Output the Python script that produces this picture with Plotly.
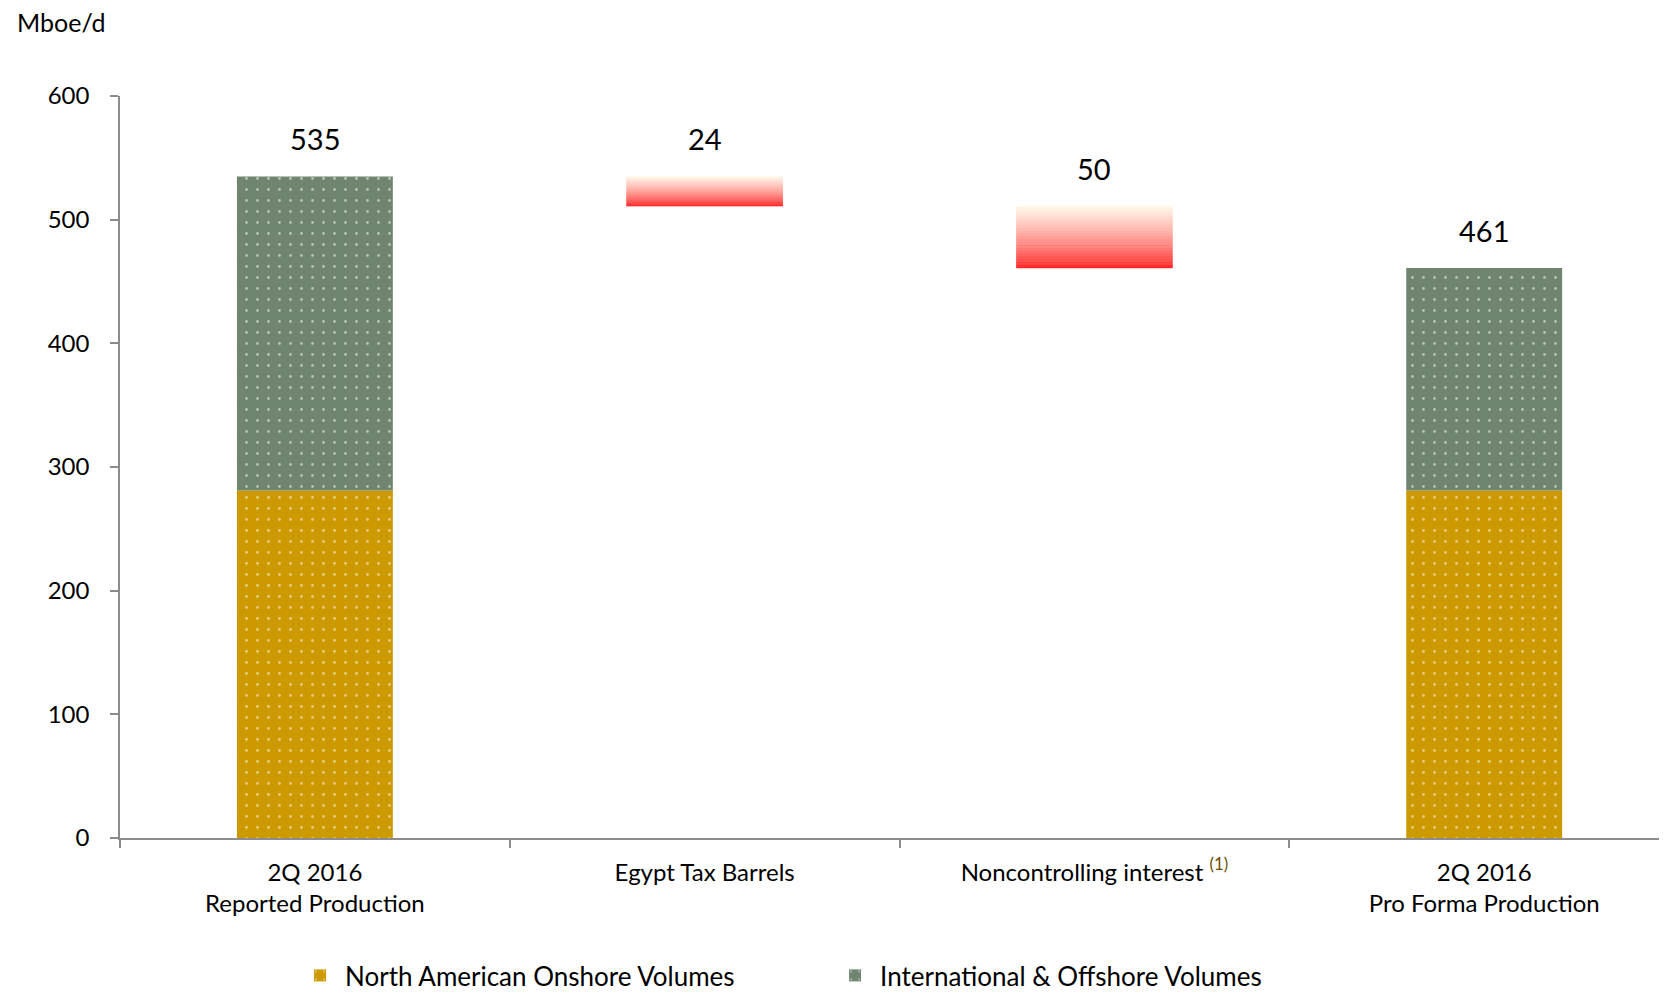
import plotly.graph_objects as go

# ---------------- data ----------------
categories = ["2Q 2016<br>Reported Production",
              "Egypt Tax Barrels",
              "Noncontrolling interest <sup><span style='color:#6b4e00'>(1)</span></sup>",
              "2Q 2016<br>Pro Forma Production"]
north_american = [281, None, None, 281]
international = [254, None, None, 180]
reductions = [None, 24, 50, None]
value_labels = ["535", "24", "50", "461"]
y_ticks = [0, 100, 200, 300, 400, 500, 600]

# ---------------- styles ----------------
FONT = "Lato"
ORANGE = "#CC9900"
GREEN = "#6F8570"
AXIS = "#8C8C8C"
N_SLICES = 40

fig = go.Figure()

pat = dict(shape=".", fgcolor="white", size=11, solidity=0.05, fillmode="overlay")

fig.add_trace(go.Bar(
    x=categories, y=north_american, base=[0, None, None, 0],
    name="North American Onshore Volumes", width=0.4,
    marker=dict(color=ORANGE, line=dict(width=0), pattern=dict(pat, bgcolor=ORANGE)),
    hoverinfo="skip"))
fig.add_trace(go.Bar(
    x=categories, y=international, base=north_american,
    name="International & Offshore Volumes", width=0.4,
    marker=dict(color=GREEN, line=dict(width=0), pattern=dict(pat, bgcolor=GREEN)),
    hoverinfo="skip"))

# running totals for the waterfall steps
tops = []
running = None
for i, r in enumerate(reductions):
    if r is None:
        tot = (north_american[i] or 0) + (international[i] or 0)
        tops.append(tot)
        if running is None:
            running = tot
    else:
        tops.append(running)
        running -= r

def mix(c1, c2, t):
    return "rgb(%d,%d,%d)" % tuple(round(a + (b - a) * t) for a, b in zip(c1, c2))

red = (255, 28, 28)
cream = (255, 249, 236)
for j in range(N_SLICES):
    t = (j + 0.5) / N_SLICES
    col = mix(red, cream, t ** 0.75)
    xs, ys, bs = [], [], []
    for i, r in enumerate(reductions):
        if r is None:
            continue
        bottom = tops[i] - r
        xs.append(categories[i])
        ys.append(r / N_SLICES)
        bs.append(bottom + j * r / N_SLICES)
    fig.add_trace(go.Bar(x=xs, y=ys, base=bs, width=0.4,
                         marker=dict(color=col, line=dict(color=col, width=0.6)),
                         showlegend=False, hoverinfo="skip"))

for i, lab in enumerate(value_labels):
    fig.add_annotation(x=categories[i], y=tops[i], text=lab, showarrow=False,
                       yanchor="bottom", yshift=18,
                       font=dict(family=FONT, size=29, color="#000000"))

fig.add_annotation(xref="paper", yref="paper", x=-0.068, y=1.100,
                   xanchor="left", yanchor="middle", text="Mboe/d",
                   showarrow=False, font=dict(family=FONT, size=25, color="#000000"))

fig.update_layout(
    width=1659, height=991,
    margin=dict(l=112, r=0, t=88, b=159),
    paper_bgcolor="white", plot_bgcolor="white",
    barmode="overlay",
    font=dict(family=FONT, size=24, color="#000000"),
    legend=dict(orientation="h", x=0.459, xanchor="center", y=-0.186, yanchor="middle",
                font=dict(family=FONT, size=26), itemwidth=40, traceorder="normal",
                entrywidth=480, entrywidthmode="pixels"),
    xaxis=dict(range=[-0.5, 3.469], showline=True, linecolor=AXIS, linewidth=1.5,
               ticks="outside", tickson="boundaries", ticklen=8, tickcolor=AXIS,
               tickwidth=1.5, showgrid=False, zeroline=False,
               tickfont=dict(family=FONT, size=24), ticklabelstandoff=12),
    yaxis=dict(range=[0, 600], tickvals=y_ticks, showline=True, linecolor=AXIS,
               linewidth=1.5, ticks="outside", ticklen=8, tickcolor=AXIS, tickwidth=1.5,
               showgrid=False, zeroline=False, tickfont=dict(family=FONT, size=24),
               ticklabelstandoff=16),
)

fig.write_html("out.html")
